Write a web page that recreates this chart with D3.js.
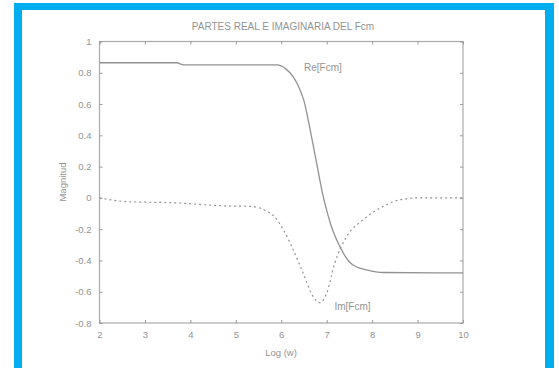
<!DOCTYPE html>
<html>
<head>
<meta charset="utf-8">
<script src="https://cdn.jsdelivr.net/npm/d3@7"></script>
<style>
  body { margin: 0; background: #fff; }
  text { font-family: "Liberation Sans", Arial, sans-serif; fill: #939393; }
</style>
</head>
<body>
<figure id="chart" style="margin:0"></figure>
<script>
// values
const reX = [2, 3.7, 3.85, 5.9, 6.1, 6.26, 6.4, 6.5, 6.6, 6.7, 6.8, 6.9, 7.0, 7.1, 7.2, 7.36, 7.5, 7.65, 7.88, 8.24, 10];
const reY = [0.864, 0.864, 0.85, 0.85, 0.825, 0.775, 0.70, 0.62, 0.49, 0.34, 0.19, 0.04, -0.08, -0.18, -0.255, -0.35, -0.41, -0.44, -0.46, -0.477, -0.48];
const imX = [2, 2.6, 3.7, 4.65, 5.35, 5.68, 5.85, 6.04, 6.26, 6.48, 6.7, 6.85, 7.0, 7.18, 7.44, 7.8, 8.24, 8.6, 9.0, 10];
const imY = [0, -0.024, -0.032, -0.05, -0.055, -0.085, -0.12, -0.2, -0.33, -0.48, -0.63, -0.67, -0.61, -0.415, -0.247, -0.14, -0.055, -0.013, 0, 0];
const xTicks = [2, 3, 4, 5, 6, 7, 8, 9, 10];
const yTicks = [-0.8, -0.6, -0.4, -0.2, 0, 0.2, 0.4, 0.6, 0.8, 1];

const width = 559, height = 368;
const plotLeft = 99.5, plotRight = 463, plotTop = 41.5, plotBottom = 323;

const svg = d3.select("#chart").append("svg")
  .attr("width", width).attr("height", height);

// blue frame
svg.append("rect").attr("x", 14).attr("y", 3).attr("width", 540).attr("height", 370).attr("fill", "#00aeef");
svg.append("rect").attr("x", 22).attr("y", 10).attr("width", 523).attr("height", 370).attr("fill", "#fff");

const x = d3.scaleLinear().domain([2, 10]).range([plotLeft, plotRight]);
const y = d3.scaleLinear().domain([-0.8, 1]).range([plotBottom, plotTop]);

// box
svg.append("rect")
  .attr("x", plotLeft).attr("y", plotTop)
  .attr("width", plotRight - plotLeft).attr("height", plotBottom - plotTop)
  .attr("fill", "none").attr("stroke", "#aaa").attr("stroke-width", 1.2);

// axes, ticks inward
const gx = svg.append("g").attr("transform", "translate(0," + plotBottom + ")")
  .call(d3.axisBottom(x).tickValues(xTicks).tickSizeInner(-3).tickSizeOuter(0).tickPadding(8).tickFormat(d3.format("d")));
const gxt = svg.append("g").attr("transform", "translate(0," + plotTop + ")")
  .call(d3.axisTop(x).tickValues(xTicks).tickSizeInner(-3).tickSizeOuter(0).tickFormat(""));
const gy = svg.append("g").attr("transform", "translate(" + plotLeft + ",0)")
  .call(d3.axisLeft(y).tickValues(yTicks).tickSizeInner(-3).tickSizeOuter(0).tickPadding(8)
    .tickFormat(d => d === 0 ? "0" : (d === 1 ? "1" : d.toFixed(1))));
const gyr = svg.append("g").attr("transform", "translate(" + plotRight + ",0)")
  .call(d3.axisRight(y).tickValues(yTicks).tickSizeInner(-3).tickSizeOuter(0).tickFormat(""));

[gx, gxt, gy, gyr].forEach(g => {
  g.select(".domain").remove();
  g.selectAll("line").attr("stroke", "#999");
  g.selectAll("text").attr("font-size", 9.5).attr("fill", "#939393")
    .style("font-family", "'Liberation Sans', Arial, sans-serif");
});

// curves
const line = d3.line().x(d => x(d[0])).y(d => y(d[1])).curve(d3.curveMonotoneX);

svg.append("path")
  .datum(reX.map((v, i) => [v, reY[i]]))
  .attr("d", line)
  .attr("fill", "none").attr("stroke", "#929292").attr("stroke-width", 1.3);

svg.append("path")
  .datum(imX.map((v, i) => [v, imY[i]]))
  .attr("d", line)
  .attr("fill", "none").attr("stroke", "#929292").attr("stroke-width", 1.2)
  .attr("stroke-dasharray", "2,3");

// labels
svg.append("text").attr("x", 283).attr("y", 30).attr("text-anchor", "middle")
  .attr("font-size", 10).text("PARTES REAL E IMAGINARIA DEL Fcm");
svg.append("text").attr("x", 281).attr("y", 356).attr("text-anchor", "middle")
  .attr("font-size", 9.5).text("Log (w)");
svg.append("text").attr("transform", "translate(66,182) rotate(-90)").attr("text-anchor", "middle")
  .attr("font-size", 9.5).text("Magnitud");
svg.append("text").attr("x", x(6.5)).attr("y", y(0.8) - 2)
  .attr("font-size", 10).text("Re[Fcm]");
svg.append("text").attr("x", x(7.17)).attr("y", y(-0.69) + 4)
  .attr("font-size", 10).text("Im[Fcm]");
</script>
</body>
</html>
